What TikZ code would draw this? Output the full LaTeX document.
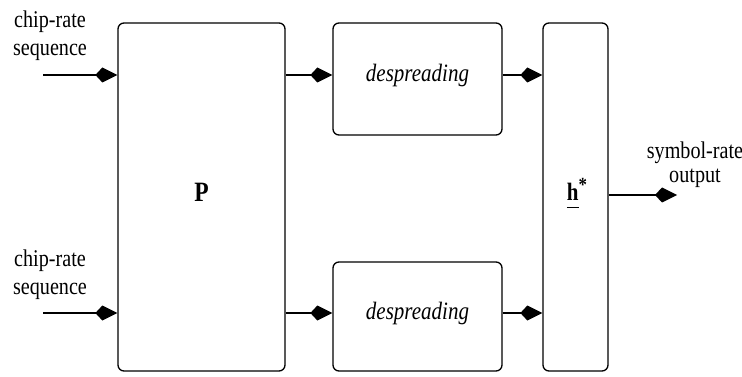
\documentclass[tikz,border=0pt]{standalone}
\usepackage{fontspec}
\setmainfont{Liberation Serif}
\newfontfamily\condser[FakeStretch=0.84]{Liberation Serif}
\usetikzlibrary{arrows.meta}
\begin{document}
\begin{tikzpicture}[x=1pt,y=-1pt,
  blk/.style={draw, line width=1.3pt, rounded corners=6pt, inner sep=0pt},
  lbl/.style={align=center, font=\condser\fontsize{24}{28}\selectfont, inner sep=0pt},
  arr/.style={line width=1.4pt, -{Kite[length=22pt,width=15pt,inset=7pt]}}]
\useasboundingbox (0,0) rectangle (742,377);
\node[blk, minimum width=167pt, minimum height=348pt] (P) at (201.5,197) {};
\node[font=\condser\fontsize{28}{30}\selectfont\bfseries] (Plbl) at (201.5,192) {P};
\node[blk, minimum width=169pt, minimum height=112pt] (D1) at (417.5,79) {};
\node[font=\condser\fontsize{25}{28}\selectfont\itshape] (D1l) at (417.5,75) {despreading};
\node[blk, minimum width=169pt, minimum height=109pt] (D2) at (417.5,316.5) {};
\node[font=\condser\fontsize{25}{28}\selectfont\itshape] (D2l) at (417.5,313) {despreading};
\node[blk, minimum width=65pt, minimum height=348pt] (H) at (575.5,197) {};
\node[font=\condser\fontsize{25}{28}\selectfont\bfseries, inner sep=0pt] (Hl) at (577,193) {\underline{h\vphantom{q}}\raisebox{9pt}{\fontsize{20}{20}\selectfont *}};
\node[lbl] (in1) at (50,36) {chip-rate\\sequence};
\node[lbl] (in2) at (50,275) {chip-rate\\sequence};
\node[lbl, font=\condser\fontsize{24}{24}\selectfont] (out) at (695,165) {symbol-rate\\output};
\coordinate (a1) at (43,75);
\coordinate (a2) at (43,313);
\coordinate (o1) at (677,195);
\draw[arr] (a1) -- (a1 -| P.west);
\draw[arr] (a2) -- (a2 -| P.west);
\draw[arr] (P.east |- a1) -- (D1.west |- a1);
\draw[arr] (P.east |- a2) -- (D2.west |- a2);
\draw[arr] (D1.east |- a1) -- (H.west |- a1);
\draw[arr] (D2.east |- a2) -- (H.west |- a2);
\draw[arr] (H.east |- o1) -- (o1);
\end{tikzpicture}
\end{document}
